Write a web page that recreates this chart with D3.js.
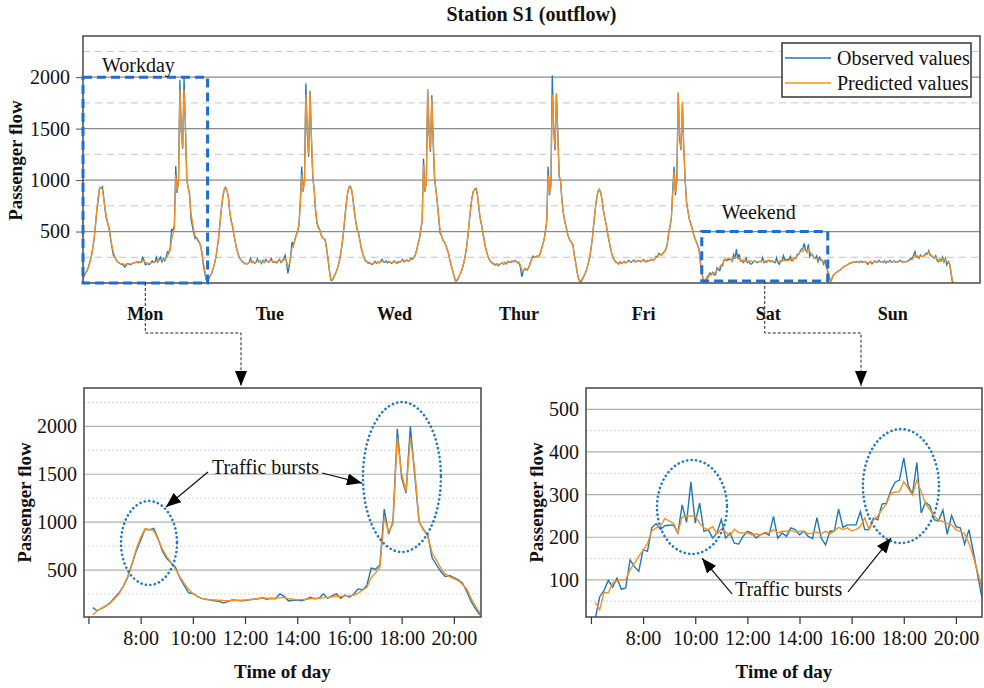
<!DOCTYPE html>
<html>
<head>
<meta charset="utf-8">
<script src="https://cdn.jsdelivr.net/npm/d3@7"></script>
<style>
  body { margin: 0; background: #fff; }
</style>
</head>
<body>
<script>
// ---- data: passenger flow every 10 min, 6:10 .. 21:00 (90 slots a day) ----
var days = ["Mon", "Tue", "Wed", "Thur", "Fri", "Sat", "Sun"];
var firstSlot = 6 + 10 / 60, slotHours = 10 / 60;

var monObserved = [108,75,100,125,160,210,260,330,420,560,
  700,810,925,920,935,830,700,620,575,530,
  420,340,265,255,225,205,195,188,180,175,
  155,170,188,185,178,182,190,195,200,210,
  195,205,200,250,225,178,185,188,180,195,
  216,199,205,251,206,230,251,206,240,216,
  250,303,293,340,520,509,554,1137,875,1007,
  1974,1461,1304,2001,1496,1007,920,868,628,554,
  484,432,442,420,397,363,275,171,94,31];
var monPredicted = [30,75,100,120,155,200,250,330,430,560,
  720,840,930,925,910,820,720,640,580,510,
  430,360,300,255,225,205,195,190,188,185,
  182,180,182,185,185,188,192,195,200,210,
  205,200,205,210,215,200,195,190,192,195,
  200,205,205,210,215,220,225,225,230,230,
  240,260,290,320,420,470,530,1050,900,980,
  1880,1500,1320,1880,1550,1000,930,850,680,600,
  520,460,430,410,390,350,300,200,120,50];

var tueObserved = [20,45,70,95,140,190,250,340,450,590,
  720,830,910,930,900,840,690,600,560,470,
  400,330,280,240,230,205,200,185,190,185,
  200,240,200,210,190,200,235,205,215,190,
  220,200,230,210,200,215,240,205,200,210,
  195,215,230,200,210,240,270,200,94,160,
  260,400,360,420,470,500,560,800,1129,887,
  1000,1939,1450,1226,1867,1400,1032,900,700,580,
  540,520,466,440,430,417,330,230,120,29];
var tuePredicted = [30,50,75,100,140,190,250,340,450,590,
  730,840,910,920,900,830,700,610,550,470,
  400,335,285,245,225,210,200,190,188,190,
  198,215,205,205,198,200,215,208,210,200,
  210,205,215,210,205,210,220,210,205,208,
  200,210,220,210,210,225,240,215,160,180,
  250,340,370,410,460,500,560,760,1050,900,
  980,1830,1500,1250,1860,1450,1050,900,720,600,
  540,510,470,445,430,410,340,240,130,40];

var wedObserved = [25,50,80,110,150,200,270,360,470,610,
  750,860,930,942,910,820,700,600,520,490,
  420,340,290,250,215,210,190,200,185,180,
  195,210,190,205,195,210,230,205,200,215,
  195,210,200,190,205,215,200,190,210,200,
  215,230,205,215,225,210,220,240,230,250,
  270,320,380,430,520,600,1210,887,980,1881,
  1450,1275,1825,1350,1000,900,780,620,483,460,
  417,400,370,330,290,223,170,120,70,20];
var wedPredicted = [30,55,85,110,150,200,270,360,470,610,
  750,860,925,935,905,820,700,605,530,480,
  415,345,290,250,220,208,198,195,190,188,
  192,200,198,200,200,205,215,210,205,210,
  205,205,202,198,202,208,205,198,205,205,
  210,220,212,215,220,215,220,232,232,245,
  265,310,370,425,510,600,1150,900,970,1880,
  1500,1300,1790,1400,1030,900,780,640,510,460,
  420,400,370,335,290,230,175,125,75,25];

var thuObserved = [20,40,75,100,140,190,255,340,450,590,
  720,830,890,910,919,850,720,620,560,470,
  400,330,280,240,215,200,190,180,175,185,
  170,180,190,195,180,200,185,210,205,200,
  215,205,220,210,195,200,150,61,110,143,
  130,126,150,191,230,262,255,250,262,255,
  280,320,370,417,500,600,1129,854,950,2019,
  1500,1291,1842,1450,1032,1000,800,680,600,547,
  480,434,410,395,370,260,191,100,40,13];
var thuPredicted = [30,45,75,100,140,190,255,340,450,590,
  730,830,890,910,910,850,730,630,560,480,
  405,335,285,245,220,205,195,188,182,185,
  180,182,188,192,188,195,192,205,205,202,
  210,208,215,210,202,200,175,120,120,140,
  138,135,150,185,220,250,252,250,258,256,
  275,315,365,415,495,600,1050,870,950,1830,
  1520,1320,1840,1450,1050,980,800,680,600,540,
  480,440,410,390,360,265,190,105,45,20];

var friObserved = [15,40,70,100,140,190,250,330,440,580,
  710,820,890,910,880,800,700,620,570,480,
  410,340,285,240,220,200,195,185,205,190,
  200,210,195,205,220,210,200,215,225,205,
  210,220,215,205,220,230,210,205,220,215,
  225,230,220,235,260,250,288,280,270,290,
  304,330,369,483,550,620,900,1129,854,1000,
  1851,1400,1291,1744,1300,1000,789,700,620,580,
  540,480,434,400,369,330,200,94,40,5];
var friPredicted = [25,45,72,100,140,190,250,330,440,580,
  715,820,885,905,880,805,705,625,565,485,
  415,345,290,245,222,205,198,192,198,195,
  198,205,200,203,212,210,205,210,218,210,
  210,215,215,210,215,225,215,210,215,215,
  222,228,222,232,250,250,275,278,272,285,
  300,325,365,470,545,620,860,1080,880,980,
  1840,1450,1300,1760,1330,1010,780,700,620,570,
  530,475,440,400,365,320,205,100,45,10];

var satObserved = [10,60,75,99,83,104,78,81,147,131,
  120,171,167,222,232,218,227,228,229,210,
  276,235,330,233,280,214,218,198,210,242,
  198,210,186,184,202,214,210,198,206,210,
  205,249,198,210,202,222,218,206,214,202,
  197,246,198,182,214,214,266,223,229,229,
  229,260,218,218,245,241,278,280,309,329,
  334,386,322,301,375,257,282,274,241,238,
  264,207,251,225,222,184,218,166,112,57];
var satPredicted = [47,30,70,70,93,98,100,100,124,139,
  155,170,185,215,222,226,244,238,233,210,
  248,250,250,250,233,222,218,225,208,219,
  212,204,219,211,210,210,206,208,205,212,
  210,218,210,214,214,216,212,214,214,208,
  210,212,208,214,208,215,223,218,222,215,
  218,225,245,218,240,250,265,278,303,306,
  307,330,315,299,334,307,280,264,250,240,
  237,232,229,218,214,208,186,155,118,81];

var sunObserved = [10,40,75,90,100,110,120,125,140,150,
  160,170,175,185,190,195,200,205,200,210,
  205,200,215,200,207,210,195,180,200,210,
  185,200,215,205,200,220,205,210,200,215,
  195,210,205,220,200,207,215,200,210,205,
  220,215,200,210,205,207,215,225,240,230,
  270,304,250,260,240,272,255,260,270,290,
  280,314,270,260,250,240,265,220,207,230,
  210,250,205,240,175,210,190,100,13,0];
var sunPredicted = [20,45,70,88,100,110,118,128,140,150,
  160,168,176,184,190,195,198,202,203,205,
  206,205,208,206,206,207,202,196,198,203,
  198,200,207,205,203,210,207,208,205,208,
  203,206,206,212,206,206,210,205,207,206,
  212,212,206,208,206,207,210,218,228,230,
  250,275,262,258,250,262,258,260,266,280,
  282,300,282,268,256,245,250,232,218,222,
  215,230,215,225,200,200,185,120,30,0];

var weekObserved = [monObserved, tueObserved, wedObserved, thuObserved, friObserved, satObserved, sunObserved];
var weekPredicted = [monPredicted, tuePredicted, wedPredicted, thuPredicted, friPredicted, satPredicted, sunPredicted];

var weekTicks = [500, 1000, 1500, 2000];
var weekMinor = [250, 750, 1250, 1750, 2250];
var hourTicks = [6, 8, 10, 12, 14, 16, 18, 20];
var hourLabels = ["", "8:00", "10:00", "12:00", "14:00", "16:00", "18:00", "20:00"];
var workdayTicks = [500, 1000, 1500, 2000];
var workdayMinor = [250, 750, 1250, 1750, 2250];
var weekendTicks = [100, 200, 300, 400, 500];
var weekendMinor = [50, 150, 250, 350, 450];

// ---- look ----
var blue = "#1f77b4", orange = "#fa8f1e", boxBlue = "#1c6fd1";
var serif = "'Liberation Serif', 'Times New Roman', Times, 'DejaVu Serif', serif";
var W = 984, H = 688;

var svg = d3.select("body").append("svg").attr("width", W).attr("height", H)
    .style("font-family", serif);
var defs = svg.append("defs");
defs.append("marker").attr("id", "tri")
    .attr("viewBox", "0 0 15 12").attr("refX", 15).attr("refY", 6)
    .attr("markerWidth", 15).attr("markerHeight", 12)
    .attr("markerUnits", "userSpaceOnUse").attr("orient", "auto")
  .append("path").attr("d", "M0,0L15,6L0,12z").attr("fill", "#000");

// ================= week chart =================
var mt = {left: 83, right: 980, top: 36, bottom: 283};
var slotsPerDay = monObserved.length;
var xTop = d3.scaleLinear().domain([0, 648]).range([mt.left, mt.right]);
var yTop = d3.scaleLinear().domain([0, 2400]).range([mt.bottom, mt.top]);

var gTop = svg.append("g");
defs.append("clipPath").attr("id", "clipTop").append("rect")
    .attr("x", mt.left).attr("y", mt.top).attr("width", mt.right - mt.left).attr("height", mt.bottom - mt.top);

gTop.selectAll("line.minor").data(weekMinor).enter().append("line")
    .attr("x1", mt.left).attr("x2", mt.right)
    .attr("y1", function(d){ return yTop(d); }).attr("y2", function(d){ return yTop(d); })
    .attr("stroke", "#c4c4c4").attr("stroke-width", 1).attr("stroke-dasharray", "7,5");
gTop.selectAll("line.major").data(weekTicks).enter().append("line")
    .attr("x1", mt.left).attr("x2", mt.right)
    .attr("y1", function(d){ return yTop(d); }).attr("y2", function(d){ return yTop(d); })
    .attr("stroke", "#8a8a8a").attr("stroke-width", 1.2);

var yAxisTop = gTop.append("g").attr("transform", "translate(" + mt.left + ",0)")
    .call(d3.axisLeft(yTop).tickValues(weekTicks).tickFormat(d3.format("d")).tickSize(7).tickPadding(6));
yAxisTop.attr("font-family", null).attr("font-size", null);
yAxisTop.select(".domain").remove();
yAxisTop.selectAll("line").attr("stroke", "#555");
yAxisTop.selectAll("text").style("font-family", serif).style("font-size", "20px").attr("fill", "#111");

function weekPoints(series) {
  var pts = [];
  series.forEach(function(day, d) {
    day.forEach(function(v, i) { pts.push({k: d * slotsPerDay + i, v: v}); });
  });
  return pts;
}
var lineTop = d3.line().x(function(p){ return xTop(p.k); }).y(function(p){ return yTop(p.v); });

gTop.append("path").datum(weekPoints(weekObserved))
    .attr("clip-path", "url(#clipTop)")
    .attr("fill", "none").attr("stroke", blue).attr("stroke-width", 1.3).attr("d", lineTop);
gTop.append("path").datum(weekPoints(weekPredicted))
    .attr("clip-path", "url(#clipTop)")
    .attr("fill", "none").attr("stroke", orange).attr("stroke-width", 1.3).attr("d", lineTop);

gTop.append("rect").attr("x", mt.left).attr("y", mt.top)
    .attr("width", mt.right - mt.left).attr("height", mt.bottom - mt.top)
    .attr("fill", "none").attr("stroke", "#4a4a4a").attr("stroke-width", 1.5);

function label(sel, size, bold) {
  return sel.style("font-family", serif).style("font-size", size + "px")
      .style("font-weight", bold ? "bold" : "normal").attr("fill", "#111");
}

// day names under each day
label(gTop.selectAll("text.day").data(days).enter().append("text")
    .attr("x", function(d, i){ return xTop(i * slotsPerDay + slotsPerDay / 2); })
    .attr("y", 320).attr("text-anchor", "middle")
    .text(function(d){ return d; }), 18, true);

label(svg.append("text").attr("x", (mt.left + mt.right) / 2).attr("y", 21)
    .attr("text-anchor", "middle").text("Station S1 (outflow)"), 20, true);
label(svg.append("text").attr("transform", "translate(22," + ((mt.top + mt.bottom) / 2 + 1) + ") rotate(-90)")
    .attr("text-anchor", "middle").text("Passenger flow"), 19, true);

// legend
var lg = svg.append("g");
lg.append("rect").attr("x", 782).attr("y", 43).attr("width", 189).attr("height", 54)
    .attr("fill", "#fff").attr("stroke", "#333").attr("stroke-width", 1.5);
[["Observed values", blue], ["Predicted values", orange]].forEach(function(e, i) {
  var y = 58 + i * 25;
  lg.append("line").attr("x1", 785).attr("x2", 831).attr("y1", y).attr("y2", y)
      .attr("stroke", e[1]).attr("stroke-width", 1.5);
  label(lg.append("text").attr("x", 837).attr("y", y + 7).text(e[0]), 20, false);
});

// workday / weekend boxes
svg.append("rect").attr("x", xTop(0)).attr("y", yTop(2000))
    .attr("width", xTop(slotsPerDay) - xTop(0)).attr("height", yTop(0) - yTop(2000))
    .attr("fill", "none").attr("stroke", boxBlue).attr("stroke-width", 3).attr("stroke-dasharray", "9,5");
label(svg.append("text").attr("x", xTop(13.7)).attr("y", yTop(2050)).text("Workday"), 20, false);
svg.append("rect").attr("x", xTop(447)).attr("y", yTop(500))
    .attr("width", xTop(538) - xTop(447)).attr("height", yTop(20) - yTop(500))
    .attr("fill", "none").attr("stroke", boxBlue).attr("stroke-width", 3).attr("stroke-dasharray", "9,5");
label(svg.append("text").attr("x", xTop(461.5)).attr("y", yTop(622)).text("Weekend"), 20, false);

// connectors to zoomed panels
function connector(x0, y0, ymid, x1, y1) {
  svg.append("path").attr("d", "M" + x0 + "," + y0 + "V" + ymid + "H" + x1 + "V" + y1)
      .attr("fill", "none").attr("stroke", "#222").attr("stroke-width", 1)
      .attr("stroke-dasharray", "3,2").attr("marker-end", "url(#tri)");
}
connector(xTop(45), yTop(0), 333, 241, 386);
connector((xTop(447) + xTop(538)) / 2, yTop(20), 333, 861, 386);

// ================= zoomed day panels =================
function panel(cfg) {
  var g = svg.append("g");
  var x = d3.scaleLinear().domain(cfg.xDomain).range([cfg.left, cfg.right]);
  var y = d3.scaleLinear().domain(cfg.yDomain).range([cfg.bottom, cfg.top]);
  var id = "clip" + cfg.name;
  defs.append("clipPath").attr("id", id).append("rect")
      .attr("x", cfg.left).attr("y", cfg.top)
      .attr("width", cfg.right - cfg.left).attr("height", cfg.bottom - cfg.top);

  g.selectAll("line.minor").data(cfg.minor).enter().append("line")
      .attr("x1", cfg.left).attr("x2", cfg.right)
      .attr("y1", function(d){ return y(d); }).attr("y2", function(d){ return y(d); })
      .attr("stroke", "#d6d6d6").attr("stroke-width", 1).attr("stroke-dasharray", "2,2");
  g.selectAll("line.major").data(cfg.ticks).enter().append("line")
      .attr("x1", cfg.left).attr("x2", cfg.right)
      .attr("y1", function(d){ return y(d); }).attr("y2", function(d){ return y(d); })
      .attr("stroke", "#b0b0b0").attr("stroke-width", 1.2);

  var ya = g.append("g").attr("transform", "translate(" + cfg.left + ",0)")
      .call(d3.axisLeft(y).tickValues(cfg.ticks).tickFormat(d3.format("d")).tickSize(0).tickPadding(7));
  ya.attr("font-family", null).attr("font-size", null);
  ya.select(".domain").remove();
  label(ya.selectAll("text"), 20, false);

  var xa = g.append("g").attr("transform", "translate(0," + cfg.bottom + ")")
      .call(d3.axisBottom(x).tickValues(hourTicks)
        .tickFormat(function(d, i){ return hourLabels[i]; }).tickSize(7).tickPadding(7));
  xa.attr("font-family", null).attr("font-size", null);
  xa.select(".domain").remove();
  xa.selectAll("line").attr("stroke", "#333").attr("stroke-width", 1.2);
  label(xa.selectAll("text"), 20, false);

  var line = d3.line()
      .x(function(v, i){ return x(firstSlot + i * slotHours); })
      .y(function(v){ return y(v); });
  g.append("path").datum(cfg.obs).attr("clip-path", "url(#" + id + ")")
      .attr("fill", "none").attr("stroke", blue).attr("stroke-width", 1.4).attr("d", line);
  g.append("path").datum(cfg.pred).attr("clip-path", "url(#" + id + ")")
      .attr("fill", "none").attr("stroke", orange).attr("stroke-width", 1.4).attr("d", line);

  g.append("rect").attr("x", cfg.left).attr("y", cfg.top)
      .attr("width", cfg.right - cfg.left).attr("height", cfg.bottom - cfg.top)
      .attr("fill", "none").attr("stroke", "#444").attr("stroke-width", 1.5);

  // dotted ellipses around the bursts
  cfg.bursts.forEach(function(b) {
    g.append("ellipse").attr("cx", x(b.h)).attr("cy", y(b.v)).attr("rx", b.rx).attr("ry", b.ry)
        .attr("fill", "none").attr("stroke", "#1f78c8").attr("stroke-width", 2.6)
        .attr("stroke-dasharray", "0.1,4.4").attr("stroke-linecap", "round");
  });
  label(g.append("text").attr("x", x(cfg.note.h)).attr("y", y(cfg.note.v)).text("Traffic bursts"), 20, false);
  cfg.arrows.forEach(function(a) {
    g.append("line").attr("x1", x(a[0])).attr("y1", y(a[1])).attr("x2", x(a[2])).attr("y2", y(a[3]))
        .attr("stroke", "#111").attr("stroke-width", 1.2).attr("marker-end", "url(#tri)");
  });

  label(g.append("text").attr("x", (cfg.left + cfg.right) / 2).attr("y", 678)
      .attr("text-anchor", "middle").text("Time of day"), 19, true);
  label(g.append("text").attr("transform", "translate(" + cfg.labelX + "," + ((cfg.top + cfg.bottom) / 2) + ") rotate(-90)")
      .attr("text-anchor", "middle").text("Passenger flow"), 19, true);
}

panel({
  name: "Mon", left: 84, right: 481, top: 388, bottom: 617,
  xDomain: [5.83, 21.04], yDomain: [10, 2400],
  ticks: workdayTicks, minor: workdayMinor,
  obs: monObserved, pred: monPredicted, labelX: 31,
  bursts: [{h: 8.32, v: 782, rx: 28, ry: 42}, {h: 18.01, v: 1471, rx: 39, ry: 75}],
  note: {h: 10.73, v: 1500},
  arrows: [[10.58, 1523, 8.97, 1158], [14.95, 1513, 16.48, 1408]]
});
panel({
  name: "Sat", left: 586, right: 982, top: 388, bottom: 617,
  xDomain: [5.81, 21.0], yDomain: [13, 550],
  ticks: weekendTicks, minor: weekendMinor,
  obs: satObserved, pred: satPredicted, labelX: 543,
  bursts: [{h: 9.876, v: 271, rx: 35, ry: 47}, {h: 17.89, v: 320, rx: 38, ry: 57}],
  note: {h: 11.525, v: 62},
  arrows: [[11.41, 67, 10.26, 151], [15.86, 72, 17.51, 198]]
});
</script>
</body>
</html>
